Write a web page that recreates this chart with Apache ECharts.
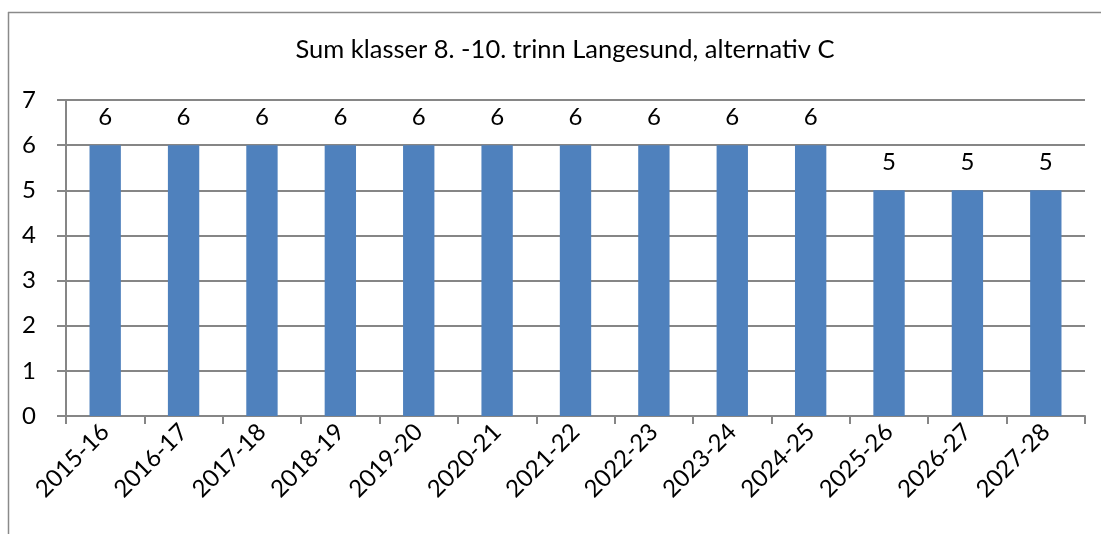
<!DOCTYPE html>
<html><head><meta charset="utf-8">
<script src="https://cdn.jsdelivr.net/npm/echarts@6/dist/echarts.min.js"></script>
<style>html,body{margin:0;padding:0;background:#fff}#c{width:1101px;height:534px}</style>
</head><body><div id="c"></div>
<script>
const categories = ['2015-16','2016-17','2017-18','2018-19','2019-20','2020-21','2021-22','2022-23','2023-24','2024-25','2025-26','2026-27','2027-28'];
const values = [6,6,6,6,6,6,6,6,6,6,5,5,5];
const titleText = 'Sum klasser 8. -10. trinn Langesund, alternativ C';
const yMin = 0, yMax = 7, yStep = 1;

const font = 'Lato';
const chart = echarts.init(document.getElementById('c'), null, {renderer:'canvas'});
chart.setOption({
  animation:false,
  backgroundColor:'#fff',
  title:{text:titleText,left:560,textAlign:'center',top:32,textStyle:{fontFamily:font,fontSize:25.5,fontWeight:'normal',color:'#000'}},
  graphic:[
    {type:'line',shape:{x1:8,y1:12.5,x2:1101,y2:12.5},style:{stroke:'#8a8a8a',lineWidth:1.5}},
    {type:'line',shape:{x1:8.5,y1:12,x2:8.5,y2:534},style:{stroke:'#8a8a8a',lineWidth:1.5}}
  ],
  grid:{left:66,right:16,top:100,bottom:118,containLabel:false},
  xAxis:{type:'category',data:categories,
    axisLine:{lineStyle:{color:'#868686',width:2}},
    axisTick:{show:true,length:8,lineStyle:{color:'#868686',width:2}},
    axisLabel:{rotate:45,fontFamily:font,fontSize:24,color:'#000',margin:12,interval:0}},
  yAxis:{type:'value',min:yMin,max:yMax,interval:yStep,
    axisLine:{show:true,lineStyle:{color:'#868686',width:2}},
    axisTick:{show:true,length:9,lineStyle:{color:'#868686',width:2}},
    splitLine:{lineStyle:{color:'#868686',width:2}},
    axisLabel:{fontFamily:font,fontSize:24,color:'#000',margin:30}},
  series:[{type:'bar',data:values,barWidth:'40%',
    itemStyle:{color:'#4F81BD'},
    label:{show:true,position:'top',distance:16,fontFamily:font,fontSize:24,color:'#000'}}]
});
</script></body></html>
